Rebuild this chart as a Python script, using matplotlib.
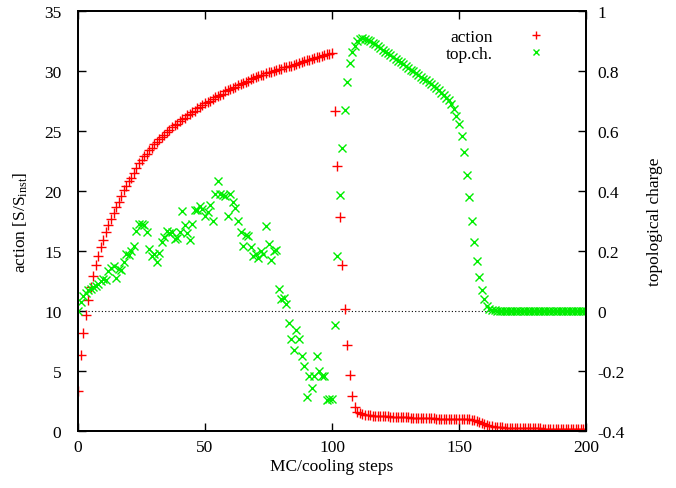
import matplotlib
matplotlib.use("Agg")
import matplotlib.pyplot as plt

plt.rcParams['font.family'] = ['Liberation Serif', 'DejaVu Serif']
plt.rcParams['mathtext.fontset'] = 'custom'
plt.rcParams['mathtext.rm'] = 'Liberation Serif'
plt.rcParams['mathtext.it'] = 'Liberation Serif:italic'

# MC/cooling step index, 0..200
steps = list(range(201))

# action in units of the instanton action (left axis)
action = [
    3.3, 6.3, 8.2, 9.7, 10.9, 12.0, 12.9, 13.8, 14.6, 15.3,
    15.9, 16.6, 17.2, 17.7, 18.2, 18.7, 19.1, 19.6, 20.1, 20.4,
    20.8, 21.1, 21.5, 21.9, 22.3, 22.6, 22.9, 23.1, 23.4, 23.6,
    23.9, 24.1, 24.3, 24.5, 24.7, 24.9, 25.1, 25.3, 25.5, 25.6,
    25.8, 26.0, 26.1, 26.3, 26.4, 26.6, 26.7, 26.9, 27.0, 27.2,
    27.3, 27.4, 27.5, 27.7, 27.8, 27.9, 28.0, 28.1, 28.3, 28.4,
    28.5, 28.6, 28.7, 28.8, 28.9, 29.0, 29.1, 29.2, 29.3, 29.4,
    29.5, 29.6, 29.7, 29.7, 29.8, 29.9, 29.95, 30.0, 30.1, 30.15,
    30.2, 30.3, 30.35, 30.4, 30.45, 30.5, 30.6, 30.7, 30.75, 30.8,
    30.9, 30.95, 31.0, 31.1, 31.15, 31.2, 31.25, 31.3, 31.4, 31.45,
    31.5, 26.7, 22.1, 17.8, 13.8, 10.2, 7.2, 4.7, 2.9, 2.0,
    1.6, 1.5, 1.4, 1.35, 1.32, 1.3, 1.28, 1.26, 1.25, 1.24,
    1.23, 1.22, 1.21, 1.2, 1.19, 1.18, 1.17, 1.16, 1.15, 1.14,
    1.13, 1.12, 1.11, 1.1, 1.09, 1.08, 1.08, 1.07, 1.06, 1.05,
    1.05, 1.04, 1.03, 1.03, 1.02, 1.02, 1.01, 1.01, 1.0, 1.0,
    1.0, 1.0, 0.99, 0.98, 0.97, 0.95, 0.9, 0.83, 0.75, 0.66,
    0.58, 0.51, 0.45, 0.41, 0.37, 0.34, 0.32, 0.3, 0.29, 0.28,
    0.27, 0.26, 0.26, 0.25, 0.25, 0.24, 0.24, 0.23, 0.23, 0.22,
    0.22, 0.21, 0.21, 0.2, 0.2, 0.2, 0.19, 0.19, 0.19, 0.18,
    0.18, 0.18, 0.17, 0.17, 0.17, 0.16, 0.16, 0.16, 0.15, 0.15, 0.15,
]

# topological charge (right axis)
charge = [
    0.00, 0.03, 0.05, 0.06, 0.07, 0.075, 0.08, 0.083, 0.09, 0.10,
    0.107, 0.105, 0.134, 0.145, 0.149, 0.11, 0.14, 0.137, 0.162, 0.19,
    0.187, 0.201, 0.216, 0.268, 0.29, 0.29, 0.286, 0.264, 0.207, 0.184,
    0.19, 0.164, 0.193, 0.23, 0.246, 0.268, 0.26, 0.264, 0.24, 0.245,
    0.264, 0.334, 0.287, 0.26, 0.238, 0.29, 0.336, 0.336, 0.351, 0.34,
    0.318, 0.33, 0.353, 0.301, 0.39, 0.434, 0.39, 0.387, 0.384, 0.318,
    0.39, 0.362, 0.345, 0.30, 0.262, 0.218, 0.255, 0.251, 0.212, 0.184,
    0.19, 0.176, 0.201, 0.19, 0.284, 0.223, 0.171, 0.201, 0.205, 0.073,
    0.04, 0.045, 0.023, -0.04, -0.093, -0.129, -0.062, -0.093, -0.149, -0.182,
    -0.288, -0.216, -0.258, -0.218, -0.151, -0.199, -0.215, -0.218, -0.296, -0.293,
    -0.293, -0.046, 0.184, 0.387, 0.545, 0.671, 0.762, 0.827, 0.864, 0.885,
    0.900, 0.907, 0.909, 0.907, 0.904, 0.900, 0.895, 0.889, 0.883, 0.877,
    0.871, 0.865, 0.859, 0.853, 0.847, 0.841, 0.835, 0.829, 0.823, 0.817,
    0.811, 0.805, 0.799, 0.793, 0.787, 0.781, 0.775, 0.769, 0.763, 0.757,
    0.750, 0.743, 0.736, 0.728, 0.720, 0.711, 0.702, 0.690, 0.672, 0.651,
    0.623, 0.584, 0.529, 0.454, 0.379, 0.301, 0.231, 0.166, 0.112, 0.071,
    0.040, 0.018, 0.008, 0.004, 0.002, 0.001, 0.001, 0.001, 0.0, 0.0,
    0.0, 0.0, 0.0, 0.0, 0.0, 0.0, 0.0, 0.0, 0.0, 0.0,
    0.0, 0.0, 0.0, 0.0, 0.0, 0.0, 0.0, 0.0, 0.0, 0.0,
    0.0, 0.0, 0.0, 0.0, 0.0, 0.0, 0.0, 0.0, 0.0, 0.0, 0.0,
]

fs = 12.5
fig = plt.figure(figsize=(6.76, 4.89), dpi=100)
ax = fig.add_axes([78 / 676, 1 - 432 / 489, 508 / 676, 420 / 489])
ax2 = ax.twinx()

ax.axhline(10, color='black', lw=0.8, ls=(0, (1, 2)), zorder=1)
p1, = ax.plot(steps, action, ls='none', marker='+', ms=6.5, mew=1.0,
              color='#ff0000', label='action')
p2, = ax2.plot(steps, charge, ls='none', marker='x', ms=5.2, mew=1.0,
               color='#00ee00', label='top.ch.')

ax.set_xlim(0, 200)
ax.set_ylim(0, 35)
ax2.set_ylim(-0.4, 1.0)
ax.set_xticks([0, 50, 100, 150, 200])
ax.set_yticks(range(0, 36, 5))
ax2.set_yticks([-0.4, -0.2, 0, 0.2, 0.4, 0.6, 0.8, 1.0])
ax2.set_yticklabels(['-0.4', '-0.2', '0', '0.2', '0.4', '0.6', '0.8', '1'])

ax.tick_params(direction='in', length=6, width=1, labelsize=fs, top=True,
               right=False)
ax.tick_params(axis='x', pad=6)
ax.tick_params(axis='y', pad=12)
ax2.tick_params(direction='in', length=6, width=1, labelsize=fs, pad=8)
for a in (ax, ax2):
    for s in a.spines.values():
        s.set_linewidth(1.3)

ax.set_xlabel('MC/cooling steps', fontsize=fs, labelpad=2)
ax.set_ylabel(r'action [S/S$_{\rm inst}$]', fontsize=fs, labelpad=10)
ax2.set_ylabel('topological charge', fontsize=fs, labelpad=16)

ax2.legend([p1, p2], ['action', 'top.ch.'], loc='upper right',
           bbox_to_anchor=(0.94, 0.975), frameon=False, markerfirst=False,
           fontsize=fs, handlelength=1.5, handletextpad=1.7, labelspacing=0.1,
           borderaxespad=0, markerscale=0.9)

fig.savefig('out.png', dpi=100)
